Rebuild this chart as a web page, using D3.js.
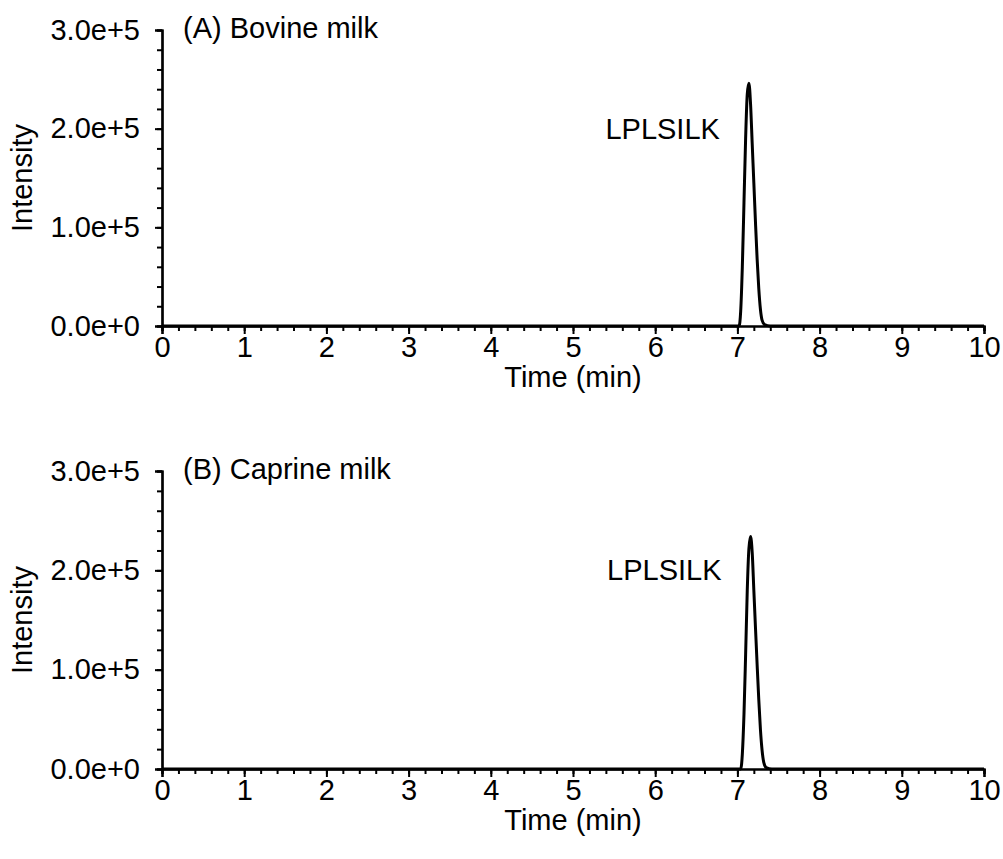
<!DOCTYPE html>
<html>
<head>
<meta charset="utf-8">
<script src="https://cdn.jsdelivr.net/npm/d3@7"></script>
<style>
  body { margin: 0; background: #fff; }
  text { font-family: "Liberation Sans", Arial, sans-serif; fill: #000; }
</style>
</head>
<body>
<div id="chart"></div>
<script>
// Data
const xTicks = [0, 1, 2, 3, 4, 5, 6, 7, 8, 9, 10]
const yTicks = [0, 100000, 200000, 300000]

const timeA = [0, 7.02, 7.04, 7.06, 7.08, 7.10, 7.12, 7.14, 7.16, 7.18, 7.20, 7.22, 7.24, 7.26, 7.28, 7.30, 7.33, 7.40, 10]
const intA = [0, 0, 15000, 60000, 125000, 190000, 235000, 246000, 225000, 185000, 145000, 105000, 68000, 38000, 17000, 6000, 1500, 0, 0]

const timeB = [0, 7.04, 7.06, 7.08, 7.10, 7.12, 7.14, 7.16, 7.18, 7.20, 7.22, 7.24, 7.26, 7.28, 7.30, 7.32, 7.35, 7.42, 10]
const intB = [0, 0, 15000, 55000, 115000, 180000, 222000, 234000, 218000, 180000, 142000, 105000, 70000, 40000, 19000, 7000, 1500, 0, 0]

const panels = [
  { title: '(A) Bovine milk', peak: 'LPLSILK', time: timeA, intensity: intA, top: 30, bottom: 326, peakLabelT: 7.14 },
  { title: '(B) Caprine milk', peak: 'LPLSILK', time: timeB, intensity: intB, top: 471, bottom: 769, peakLabelT: 7.16 },
]

// Dimensions
const dimensions = { width: 1003, height: 859, left: 162, right: 984 }
const fontSize = '29px'

const svg = d3.select('#chart')
  .append('svg')
  .attr('width', dimensions.width)
  .attr('height', dimensions.height)

const xScale = d3.scaleLinear()
  .domain([0, 10])
  .range([dimensions.left, dimensions.right])

panels.forEach(p => {
  const yScale = d3.scaleLinear()
    .domain([0, 300000])
    .range([p.bottom, p.top])

  const g = svg.append('g')

  // minor ticks
  const yAxisMinor = d3.axisLeft(yScale)
    .tickValues(d3.range(0, 300001, 20000))
    .tickSize(5)
    .tickFormat('')
  g.append('g')
    .attr('transform', `translate(${dimensions.left}, 0)`)
    .call(yAxisMinor)

  const xAxisMinor = d3.axisBottom(xScale)
    .tickValues(d3.range(0, 10.01, 0.2))
    .tickSize(5)
    .tickFormat('')
  g.append('g')
    .attr('transform', `translate(0, ${p.bottom})`)
    .call(xAxisMinor)

  // major
  const yAxis = d3.axisLeft(yScale)
    .tickValues(yTicks)
    .tickSize(7)
    .tickPadding(15)
    .tickFormat(d3.format('.1e'))
  g.append('g')
    .attr('transform', `translate(${dimensions.left}, 0)`)
    .call(yAxis)

  const xAxis = d3.axisBottom(xScale)
    .tickValues(xTicks)
    .tickSize(8)
    .tickPadding(2)
    .tickFormat(d3.format('d'))
  g.append('g')
    .attr('transform', `translate(0, ${p.bottom})`)
    .call(xAxis)

  g.selectAll('.domain, .tick line')
    .attr('stroke', '#000')
    .attr('stroke-width', 2)
  g.selectAll('.domain')
    .attr('stroke-width', 2.2)
  g.selectAll('.tick text')
    .style('font-size', fontSize)
    .style('font-family', '"Liberation Sans", Arial, sans-serif')

  // chromatogram
  const line = d3.line()
    .x((d, i) => xScale(p.time[i]))
    .y(d => yScale(d))
    .curve(d3.curveMonotoneX)

  g.append('path')
    .datum(p.intensity)
    .attr('d', line)
    .attr('fill', 'none')
    .attr('stroke', '#000')
    .attr('stroke-width', 3)
    .attr('stroke-linejoin', 'round')

  // labels
  g.append('text')
    .attr('x', 183)
    .attr('y', p.top + 8)
    .style('font-size', fontSize)
    .text(p.title)

  g.append('text')
    .attr('x', xScale(p.peakLabelT) - 29)
    .attr('y', yScale(200000) + 10)
    .attr('text-anchor', 'end')
    .style('font-size', fontSize)
    .text(p.peak)

  g.append('text')
    .attr('x', (dimensions.left + dimensions.right) / 2)
    .attr('y', p.bottom + 61)
    .attr('text-anchor', 'middle')
    .style('font-size', fontSize)
    .text('Time (min)')

  g.append('text')
    .attr('transform', `translate(32, ${(p.top + p.bottom) / 2}) rotate(-90)`)
    .attr('text-anchor', 'middle')
    .style('font-size', fontSize)
    .text('Intensity')
})
</script>
</body>
</html>
